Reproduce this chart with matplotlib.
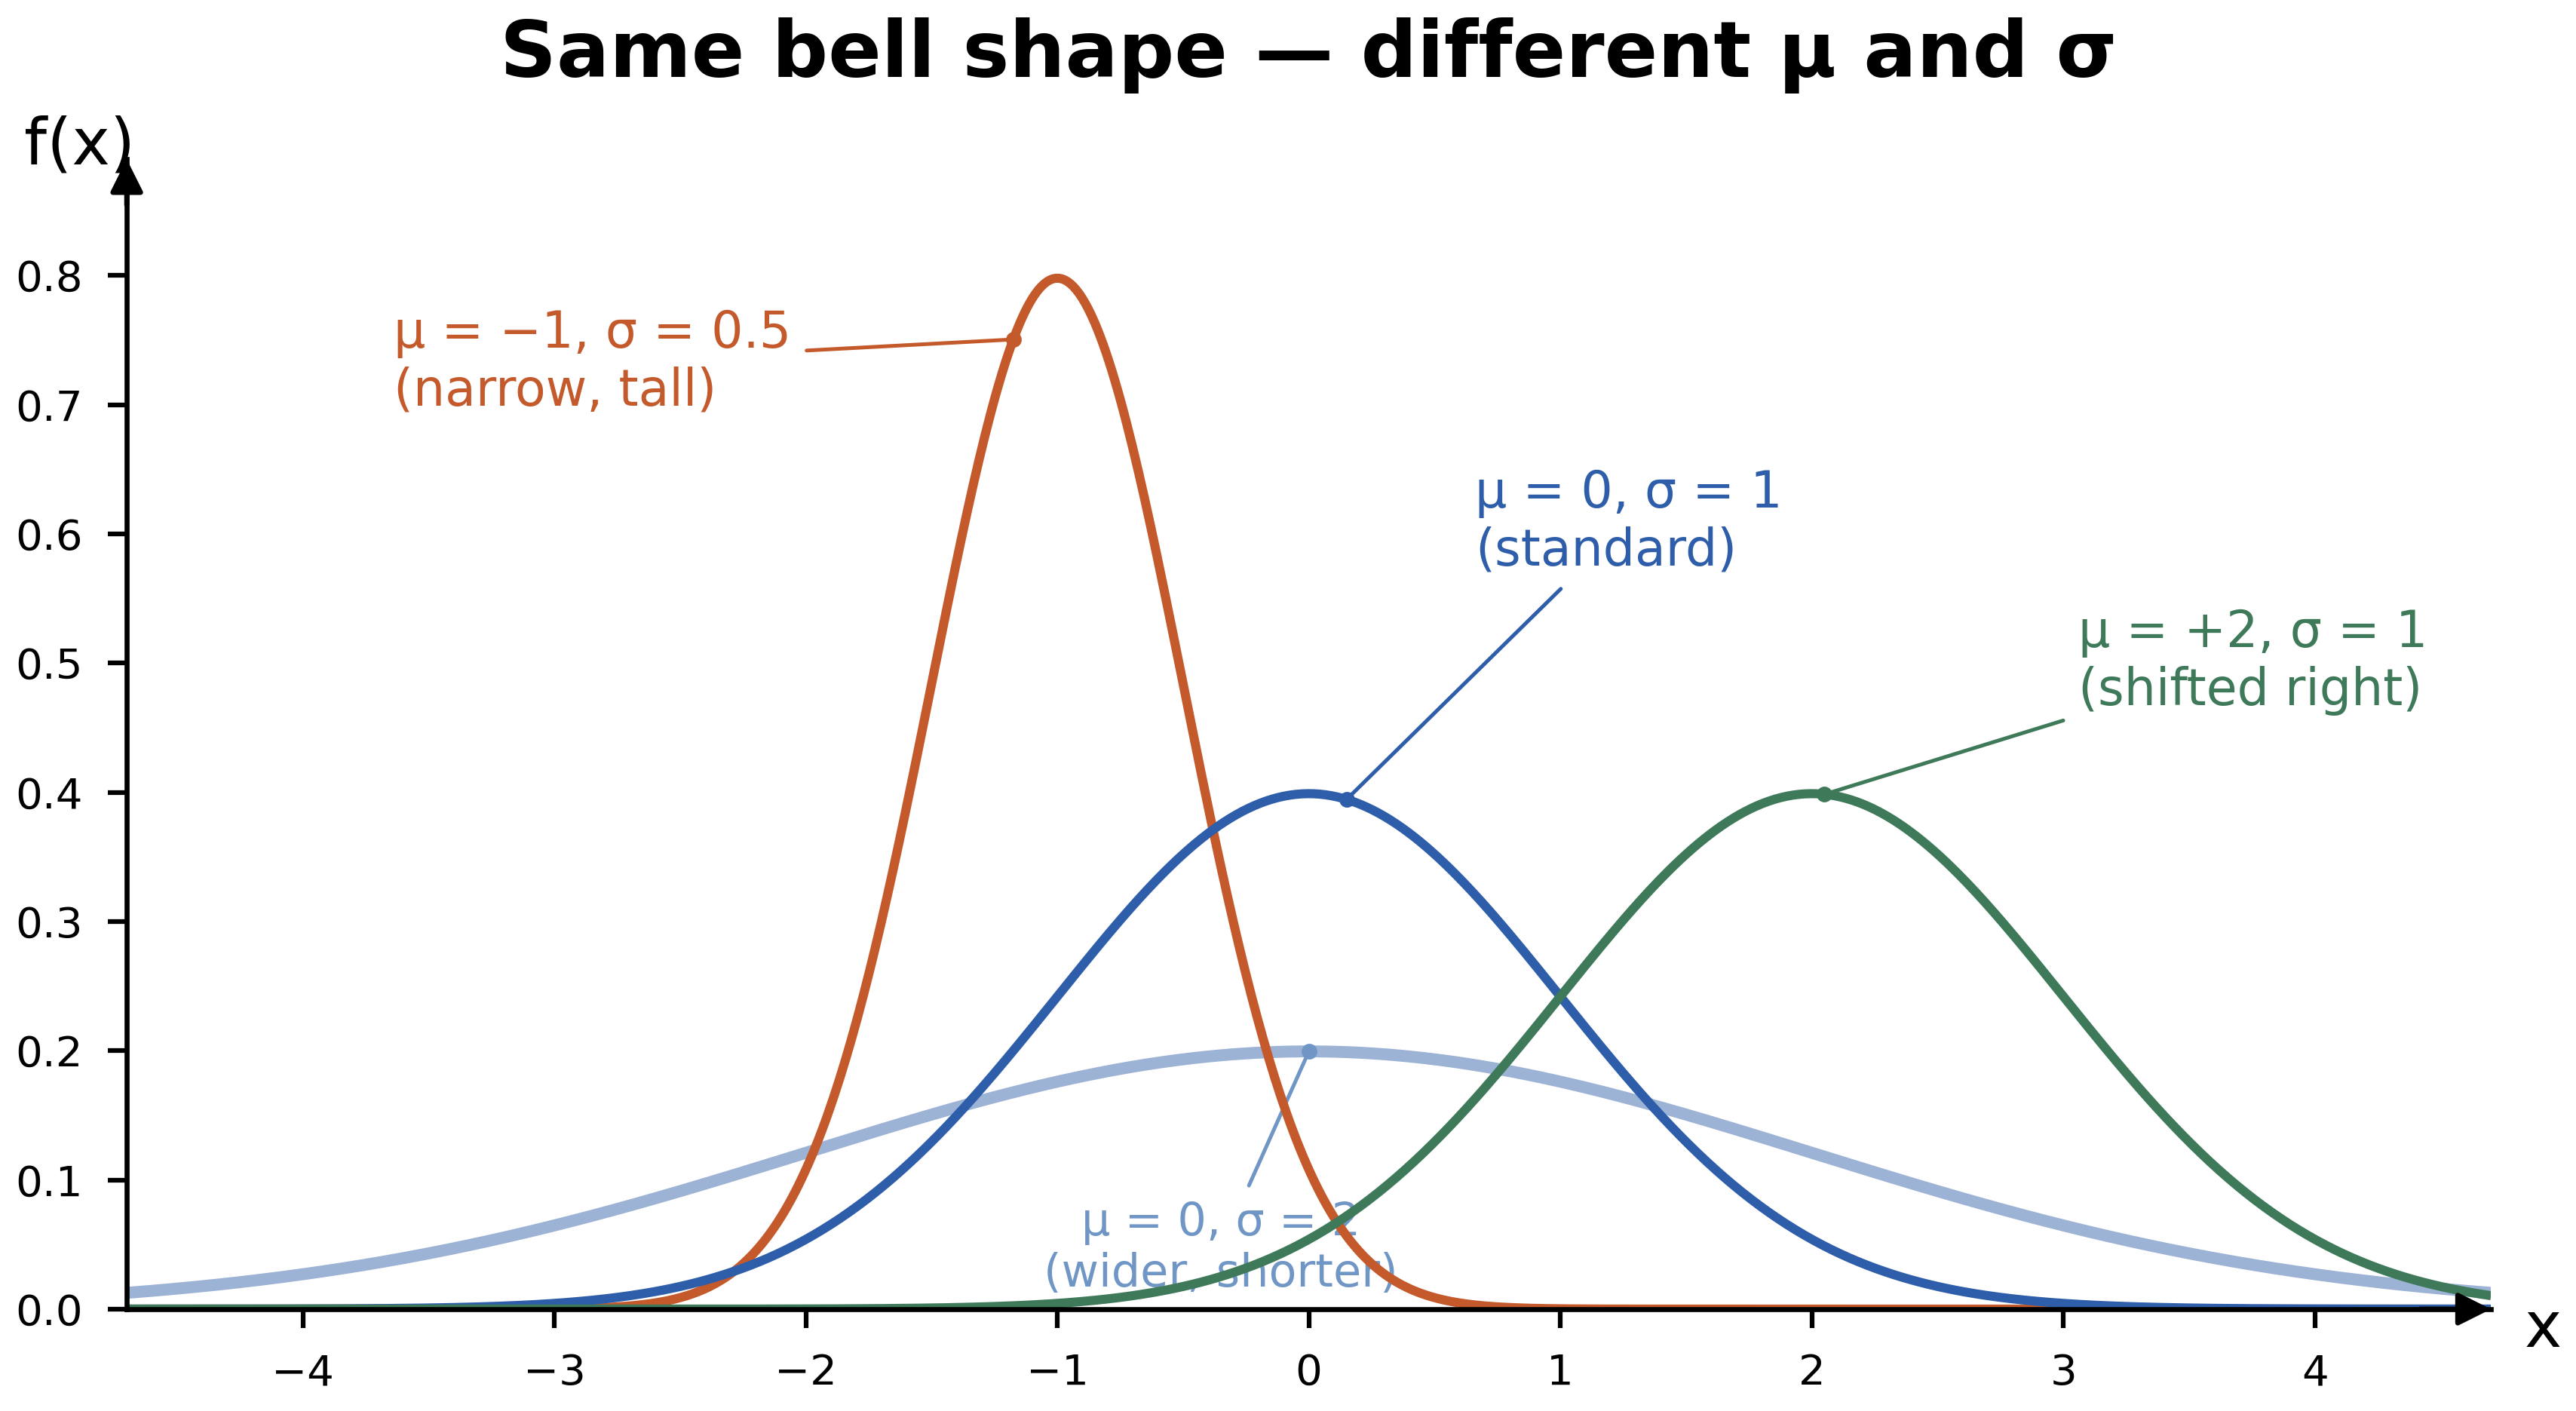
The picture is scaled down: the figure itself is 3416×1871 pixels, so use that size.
import numpy as np
import matplotlib.pyplot as plt

# curve parameters
mus = [0.0, -1.0, 0.0, 2.0]
sigmas = [2.0, 0.5, 1.0, 1.0]
line_colors = ["#9DB3D6", "#C45A2C", "#2E5DAA", "#3E7A5A"]
text_colors = ["#7096C6", "#C45A2C", "#2E5DAA", "#3E7A5A"]
line_widths = [3.8, 2.9, 2.9, 2.9]

labels = ["μ = 0, σ = 2\n(wider, shorter)",
          "μ = −1, σ = 0.5\n(narrow, tall)",
          "μ = 0, σ = 1\n(standard)",
          "μ = +2, σ = 1\n(shifted right)"]
point_x = [0.0, -1.175, 0.15, 2.05]
text_xy = [(-0.35, 0.047), (-3.64, 0.733), (0.66, 0.609), (3.06, 0.501)]
text_ha = ["center", "left", "left", "left"]
text_size = [14.5, 16, 16, 16]

x_ticks = [-4, -3, -2, -1, 0, 1, 2, 3, 4]
y_ticks = [0.0, 0.1, 0.2, 0.3, 0.4, 0.5, 0.6, 0.7, 0.8]


def normal_pdf(x, mu, sigma):
    return np.exp(-0.5 * ((x - mu) / sigma) ** 2) / (sigma * np.sqrt(2 * np.pi))


fig = plt.figure(figsize=(3416 / 300, 1871 / 300), dpi=300)
ax = fig.add_axes([0.0492, 0.0722, 0.9178, 0.815])

xs = np.linspace(-4.7, 4.7, 800)
for i, (mu, sd) in enumerate(zip(mus, sigmas)):
    ax.plot(xs, normal_pdf(xs, mu, sd), color=line_colors[i], lw=line_widths[i],
            zorder=2 + i, solid_capstyle="butt")

for i, (mu, sd) in enumerate(zip(mus, sigmas)):
    px = point_x[i]
    py = normal_pdf(px, mu, sd)
    ax.plot(px, py, "o", color=text_colors[i], ms=4, zorder=7)
    ax.annotate(labels[i], xy=(px, py), xytext=text_xy[i],
                ha=text_ha[i], va="center", fontsize=text_size[i], color=text_colors[i],
                arrowprops=dict(arrowstyle="-", color=text_colors[i], lw=1.2,
                                shrinkA=3, shrinkB=0),
                zorder=1)

ax.set_xlim(-4.7, 4.7)
ax.set_ylim(0, 0.89)
ax.set_xticks(x_ticks)
ax.set_xticklabels([f"{t}".replace("-", "−") for t in x_ticks])
ax.set_yticks(y_ticks)
ax.set_yticklabels([f"{t:.1f}" for t in y_ticks])
ax.tick_params(labelsize=13.5, length=6, width=1.5, pad=8)

for side in ["top", "right"]:
    ax.spines[side].set_visible(False)
for side in ["left", "bottom"]:
    ax.spines[side].set_linewidth(1.6)
    ax.spines[side].set_zorder(8)

# arrow heads on the axes
ax.annotate("", xy=(1.0, 0), xytext=(0.97, 0), xycoords="axes fraction",
            arrowprops=dict(arrowstyle="-|>", color="black", lw=1.6,
                            mutation_scale=22, shrinkA=0, shrinkB=0), zorder=9)
ax.annotate("", xy=(0, 1.0), xytext=(0, 0.96), xycoords="axes fraction",
            arrowprops=dict(arrowstyle="-|>", color="black", lw=1.6,
                            mutation_scale=22, shrinkA=0, shrinkB=0), zorder=9)

fig.text(0.0095, 0.8835, "f(x)", fontsize=20.5, ha="left", va="baseline")
fig.text(0.980, 0.0454, "x", fontsize=20, ha="left", va="baseline")
fig.text(0.508, 0.9455, "Same bell shape — different μ and σ", fontsize=25,
         fontweight="bold", ha="center", va="baseline")

fig.savefig("out.png", dpi=300)
